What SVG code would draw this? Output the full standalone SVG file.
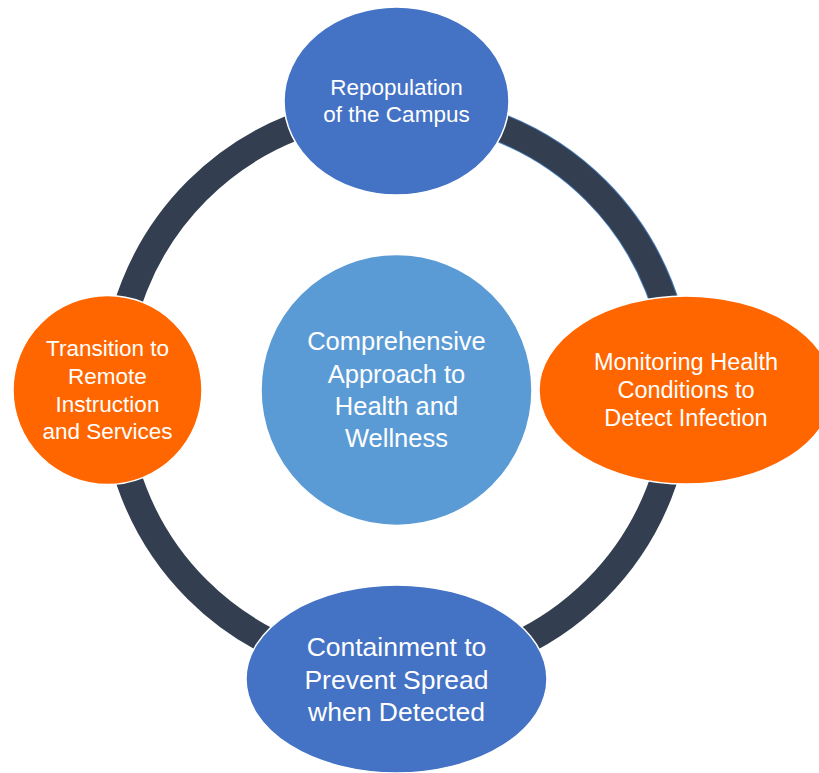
<svg xmlns="http://www.w3.org/2000/svg" width="819" height="773" viewBox="0 0 819 773">
<style>
.ring{fill:none;stroke:#333F50;stroke-width:27}
.ringedge{fill:none;stroke:#4A7EBB;stroke-width:29}
.node{stroke:#FFFFFF;stroke-width:1.5}
.blue{fill:#4472C4}
.orange{fill:#FF6600}
.center{fill:#5B9BD5}
text{font-family:"Liberation Sans",Arial,sans-serif;fill:#FFFFFF;text-anchor:middle}
</style>
<rect width="819" height="773" fill="#FFFFFF"/>
<g id="connectors">
<path class="ringedge" d="M396.5 108 A282 282 0 0 1 678.5 390"/>
<path class="ring" d="M396.5 108 A282 282 0 0 1 678.5 390"/>
<path class="ring" d="M678.5 390 A282 282 0 0 1 396.5 672"/>
<path class="ring" d="M396.5 672 A282 282 0 0 1 114.5 390"/>
<path class="ring" d="M114.5 390 A282 282 0 0 1 396.5 108"/>
</g>
<g id="node-center">
<circle class="node center" cx="396.5" cy="390" r="135.5"/>
<text font-size="25.5"><tspan x="396.5" y="350">Comprehensive</tspan><tspan x="396.5" y="382.5">Approach to</tspan><tspan x="396.5" y="415">Health and</tspan><tspan x="396.5" y="447">Wellness</tspan></text>
</g>
<g id="node-top">
<ellipse class="node blue" cx="396.5" cy="101" rx="112.5" ry="94"/>
<text font-size="22.5"><tspan x="396.5" y="95">Repopulation</tspan><tspan x="396.5" y="122">of the Campus</tspan></text>
</g>
<g id="node-right">
<ellipse class="node orange" cx="686" cy="390" rx="147" ry="94"/>
<text font-size="23.5"><tspan x="686" y="370">Monitoring Health</tspan><tspan x="686" y="398">Conditions to</tspan><tspan x="686" y="426">Detect Infection</tspan></text>
</g>
<g id="node-bottom">
<ellipse class="node blue" cx="396.5" cy="679" rx="150.5" ry="94"/>
<text font-size="26.5"><tspan x="396.5" y="656">Containment to</tspan><tspan x="396.5" y="688.5">Prevent Spread</tspan><tspan x="396.5" y="721">when Detected</tspan></text>
</g>
<g id="node-left">
<circle class="node orange" cx="107.5" cy="390" r="94.5"/>
<text font-size="22.5"><tspan x="107.5" y="356">Transition to</tspan><tspan x="107.5" y="384">Remote</tspan><tspan x="107.5" y="411.5">Instruction</tspan><tspan x="107.5" y="439">and Services</tspan></text>
</g>
</svg>
